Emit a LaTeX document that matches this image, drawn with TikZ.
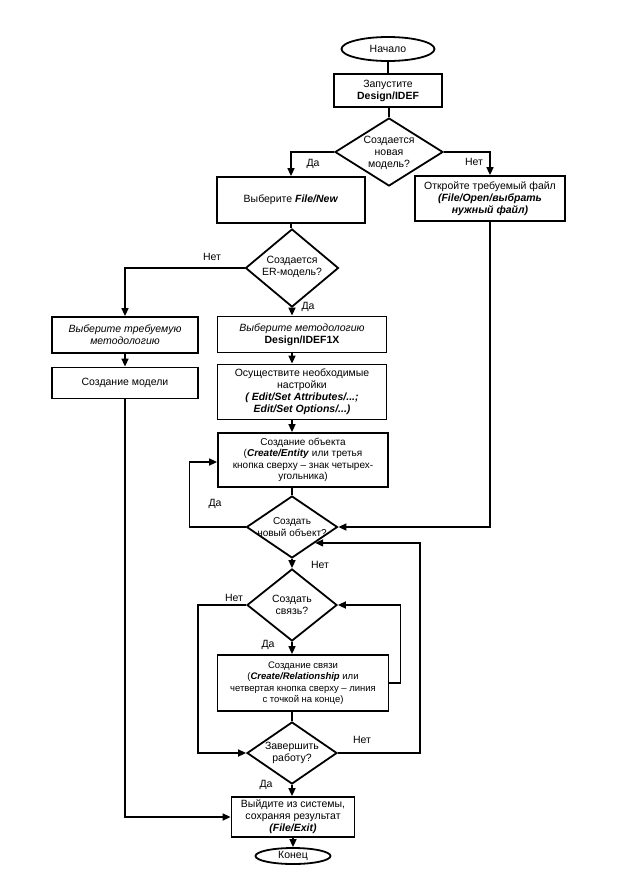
\documentclass[tikz,border=0pt]{standalone}
\usepackage{fontspec}
\setmainfont{Liberation Sans}
\usetikzlibrary{shapes.geometric,arrows.meta}
\tikzset{
  box/.style={draw, line width=1.8pt, rectangle, inner sep=1pt, align=center, font=\fontsize{10.5}{12}\selectfont},
  dia/.style={draw, line width=1.8pt, diamond, inner sep=0pt},
  dtext/.style={align=center, font=\fontsize{10.5}{12}\selectfont},
  oval/.style={draw, line width=1.8pt, ellipse, inner sep=0pt, font=\fontsize{10.5}{12}\selectfont},
  conn/.style={line width=1.6pt},
  arr/.style={line width=1.6pt, -{Triangle[length=8pt,width=7pt]}},
  lbl/.style={font=\fontsize{10.5}{12}\selectfont, inner sep=0pt}
}
\newcommand{\bi}[1]{\textbf{\textit{#1}}}
\begin{document}
\begin{tikzpicture}[x=1pt,y=-1pt]
\useasboundingbox[fill=white] (0,0) rectangle (624,873);

% nodes
\node[oval, minimum width=93pt, minimum height=24pt] (start) at (388,49) {Начало};
\node[box, minimum width=108pt, minimum height=33pt] (launch) at (388,90.5) {Запустите\\\textbf{Design/IDEF}};
\node[dia, minimum width=108pt, minimum height=68pt] (d1) at (389,152) {};
\node[dtext] (d1t) at (389,153) {Создается\\новая\\модель?};
\node[box, minimum width=148pt, minimum height=46pt] (filenew) at (291,200) {Выберите \bi{File/New}};
\node[box, minimum width=150pt, minimum height=45pt] (openf) at (490,198.5) {Откройте требуемый файл\\\bi{(File/Open/выбрать}\\\bi{нужный файл)}};
\node[dia, minimum width=93pt, minimum height=78pt] (d2) at (292,268) {};
\node[dtext] (d2t) at (292,267) {Создается\\ER-модель?};
\node[box, minimum width=146pt, minimum height=36pt] (method) at (125,335) {\textit{Выберите  требуемую}\\\textit{методологию}};
\node[box, minimum width=146pt, minimum height=31pt] (model) at (125,383) {Создание модели};
\node[box, minimum width=169pt, minimum height=36pt] (idef1x) at (302,334.5) {\textit{Выберите методологию}\\\textbf{Design/IDEF1X}};
\node[box, minimum width=169pt, minimum height=55pt] (settings) at (302,392) {Осуществите необходимые\\настройки\\\bi{( Edit/Set Attributes/...;}\\\bi{Edit/Set Options/...)}};
\node[box, minimum width=170pt, minimum height=54pt, font=\fontsize{10}{11.5}\selectfont] (entity) at (303,460) {Создание объекта\\(\bi{Create/Entity}  или третья\\кнопка сверху – знак четырех-\\угольника)};
\node[dia, minimum width=91pt, minimum height=62pt] (d3) at (292,527) {};
\node[dtext, font=\fontsize{10}{12}\selectfont] (d3t) at (292,527) {Создать\\новый объект?};
\node[dia, minimum width=90pt, minimum height=72pt] (d4) at (292,605) {};
\node[dtext] (d4t) at (292,605) {Создать\\связь?};
\node[box, minimum width=171pt, minimum height=56pt, font=\fontsize{9.5}{11.5}\selectfont] (rel) at (303,683) {Создание связи\\(\bi{Create/Relationship} или\\четвертая кнопка сверху – линия\\с точкой на конце)};
\node[dia, minimum width=90pt, minimum height=62pt] (d5) at (292,753) {};
\node[dtext] (d5t) at (292,753) {Завершить\\работу?};
\node[box, minimum width=123pt, minimum height=40pt] (exitb) at (293,817) {Выйдите из системы,\\сохраняя результат\\\bi{(File/Exit)}};
\node[oval, minimum width=75pt, minimum height=16pt] (end) at (293,856) {Конец};

% connectors
\draw[conn] (start) -- (launch);
\draw[conn] (launch.south -| d1.north) -- (d1.north);
\draw[arr] (d1.west) -| (filenew.north);
\draw[arr] (d1.east) -| (openf.north);
\draw[conn] (filenew.south) -- (filenew.south |- d2.north);
\draw[arr] (d2.west) -| (method.north);
\draw[arr] (method) -- (model);
\draw[arr] (d2.south) -- (d2.south |- idef1x.north);
\draw[arr] (idef1x.south -| d2.south) -- (settings.north -| d2.south);
\draw[arr] (settings.south -| d2.south) -- (entity.north -| d2.south);
\draw[conn] (entity.south -| d3.north) -- (d3.north);
\draw[arr] (d3.west) -- ++(-56,0) |- ([yshift=-2pt]entity.west);
\draw[arr] (openf.south) |- (d3.east);
\draw[arr] (d3.south) -- (d4.north);
\draw[arr] (d4.west) -- ++(-48,0) |- (d5.west);
\draw[arr] (d4.south) -- (d4.south |- rel.north);
\draw[arr] (rel.east) -- ++(11,0) |- (d4.east);
\draw[conn] (rel.south -| d5.north) -- (d5.north);
\draw[arr] (d5.east) -- ++(82,0) |- (d3.south east);
\draw[arr] (d5.south) -- (d5.south |- exitb.north);
\draw[arr] (model.south) |- (exitb.west);
\draw[arr] (exitb) -- (end);

% labels
\node[lbl] (l1) at (313,164) {Да};
\node[lbl] (l2) at (474,162) {Нет};
\node[lbl] (l3) at (212,257) {Нет};
\node[lbl] (l4) at (308,307) {Да};
\node[lbl] (l5) at (215,504) {Да};
\node[lbl] (l6) at (320,565) {Нет};
\node[lbl] (l7) at (234,598) {Нет};
\node[lbl] (l8) at (268,645) {Да};
\node[lbl] (l9) at (362,740) {Нет};
\node[lbl] (l10) at (266,785) {Да};
\end{tikzpicture}
\end{document}
